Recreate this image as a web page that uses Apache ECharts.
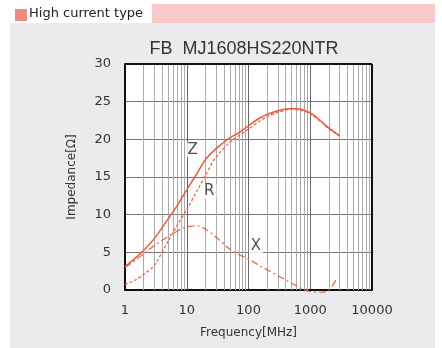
<!DOCTYPE html>
<html><head><meta charset="utf-8">
<script src="https://cdn.jsdelivr.net/npm/echarts@6/dist/echarts.min.js"></script>
<style>html,body{margin:0;padding:0;background:#fff}#c{width:442px;height:348px}</style>
</head><body><div id="c"></div>
<script>
const freq = [1, 1.5, 2, 3, 5, 7, 10, 15, 20, 30, 50, 70, 100, 150, 200, 300, 500, 700, 1000, 1500, 2000, 3000];
const zVals = [3.1, 4.3, 5.25, 6.85, 9.45, 11.2, 13.3, 15.6, 17.3, 18.8, 20.2, 20.9, 21.8, 22.8, 23.3, 23.8, 24.1, 24.0, 23.5, 22.4, 21.5, 20.5];
const rVals = [0.7, 1.35, 2.05, 3.3, 6.5, 8.6, 10.7, 13.3, 15.2, 17.7, 19.6, 20.5, 21.35, 22.4, 23.0, 23.6, 24.0, 23.85, 23.4, 22.3, 21.4, 20.4];
const freqX = [1, 1.5, 2, 3, 5, 7, 10, 15, 20, 30, 50, 70, 100, 150, 200, 300, 500, 700, 1000, 1500, 2000, 2650];
const xVals = [3.0, 4.0, 4.8, 5.9, 7.1, 7.8, 8.4, 8.5, 8.1, 7.0, 5.4, 4.7, 4.1, 3.25, 2.7, 1.9, 0.9, 0.25, -0.2, -0.3, 0.0, 1.4];
const xTickLabels = [1, 10, 100, 1000, 10000];
const minorGridFreqs = [2,3,4,5,6,7,8,9,20,30,40,50,60,70,80,90,200,300,400,500,600,700,800,900,2000,3000,4000,5000,6000,7000,8000,9000];
const curveLabels = [{name: 'Z', f: 12.5, v: 18.6}, {name: 'R', f: 23.2, v: 13.1}, {name: 'X', f: 132, v: 5.85}];
const titleText = 'FB  MJ1608HS220NTR';
const headerText = 'High current type';

const RED = '#ef5a37';
const chart = echarts.init(document.getElementById('c'), null, {renderer: 'canvas'});
const pair = (fs, vs) => fs.map((f, i) => [f, vs[i]]);

chart.setOption({
  animation: false,
  backgroundColor: '#fff',
  textStyle: {fontFamily: 'DejaVu Sans'},
  graphic: [
    {type: 'rect', shape: {x: 10, y: 23, width: 425, height: 325}, style: {fill: '#ebebed'}, z: -10},
    {type: 'rect', shape: {x: 152, y: 4, width: 283, height: 19}, style: {fill: '#f9c8c8'}, z: -10},
    {type: 'rect', shape: {x: 15, y: 9, width: 12, height: 12}, style: {fill: '#f28782'}, z: -10},
    {type: 'text', left: 29, top: 7, style: {text: headerText, fill: '#222', font: '13px "DejaVu Sans"'}}
  ],
  title: {text: titleText, left: 239, top: 35, textAlign: 'center',
    textStyle: {fontSize: 18, fontWeight: 'normal', color: '#333', fontFamily: 'Liberation Sans'}},
  grid: {left: 125, top: 64, right: 70, bottom: 58, show: true, backgroundColor: '#fff', borderWidth: 0},
  xAxis: {
    type: 'log', logBase: 10, min: 1, max: 10000,
    name: 'Frequency[MHz]', nameLocation: 'middle', nameGap: 37,
    nameTextStyle: {fontSize: 12, color: '#333'},
    axisLine: {onZero: false, lineStyle: {color: '#111', width: 2}},
    axisTick: {show: false},
    axisLabel: {fontSize: 13, color: '#333', margin: 14,
      formatter: v => xTickLabels.includes(Math.round(v)) ? String(Math.round(v)) : ''},
    splitLine: {show: true, lineStyle: {color: '#666', width: 1}}
  },
  yAxis: {
    type: 'value', min: 0, max: 30, interval: 5,
    name: 'Impedance[Ω]', nameLocation: 'middle', nameGap: 47, nameRotate: 90,
    nameTextStyle: {fontSize: 12, color: '#333'},
    axisLine: {show: true, lineStyle: {color: '#111', width: 2}},
    axisTick: {show: false},
    axisLabel: {fontSize: 13, color: '#333', margin: 14},
    splitLine: {show: true, lineStyle: {color: '#777', width: 1}}
  },
  series: [
    {type: 'line', name: 'grid', data: [], silent: true,
      markLine: {silent: true, symbol: 'none', label: {show: false},
        lineStyle: {color: '#aaa', width: 1, type: 'solid'},
        data: minorGridFreqs.map(f => ({xAxis: f}))}},
    {type: 'line', name: 'frame', data: [], silent: true,
      markLine: {silent: true, symbol: 'none', label: {show: false},
        lineStyle: {color: '#111', width: 2, type: 'solid'},
        data: [{xAxis: 10000}, {yAxis: 30}]}},
    {type: 'line', name: 'Z', data: pair(freq, zVals), smooth: 0.3, showSymbol: false,
      lineStyle: {color: RED, width: 1.5}, z: 5},
    {type: 'line', name: 'R', data: pair(freq, rVals), smooth: 0.3, showSymbol: false,
      lineStyle: {color: RED, width: 1.2, type: [3, 2]}, z: 5},
    {type: 'line', name: 'X', data: pair(freqX, xVals), smooth: 0.3, showSymbol: false, clip: false,
      lineStyle: {color: RED, width: 1.2, type: [7, 3, 2, 3]}, z: 5},
    {type: 'scatter', name: 'labels', symbolSize: 0, z: 6,
      data: curveLabels.map(d => ({value: [d.f, d.v], name: d.name})),
      label: {show: true, position: 'inside', formatter: p => p.name, fontSize: 15, color: '#222',
        backgroundColor: '#fff', padding: [0, 2]}}
  ]
});
</script></body></html>
